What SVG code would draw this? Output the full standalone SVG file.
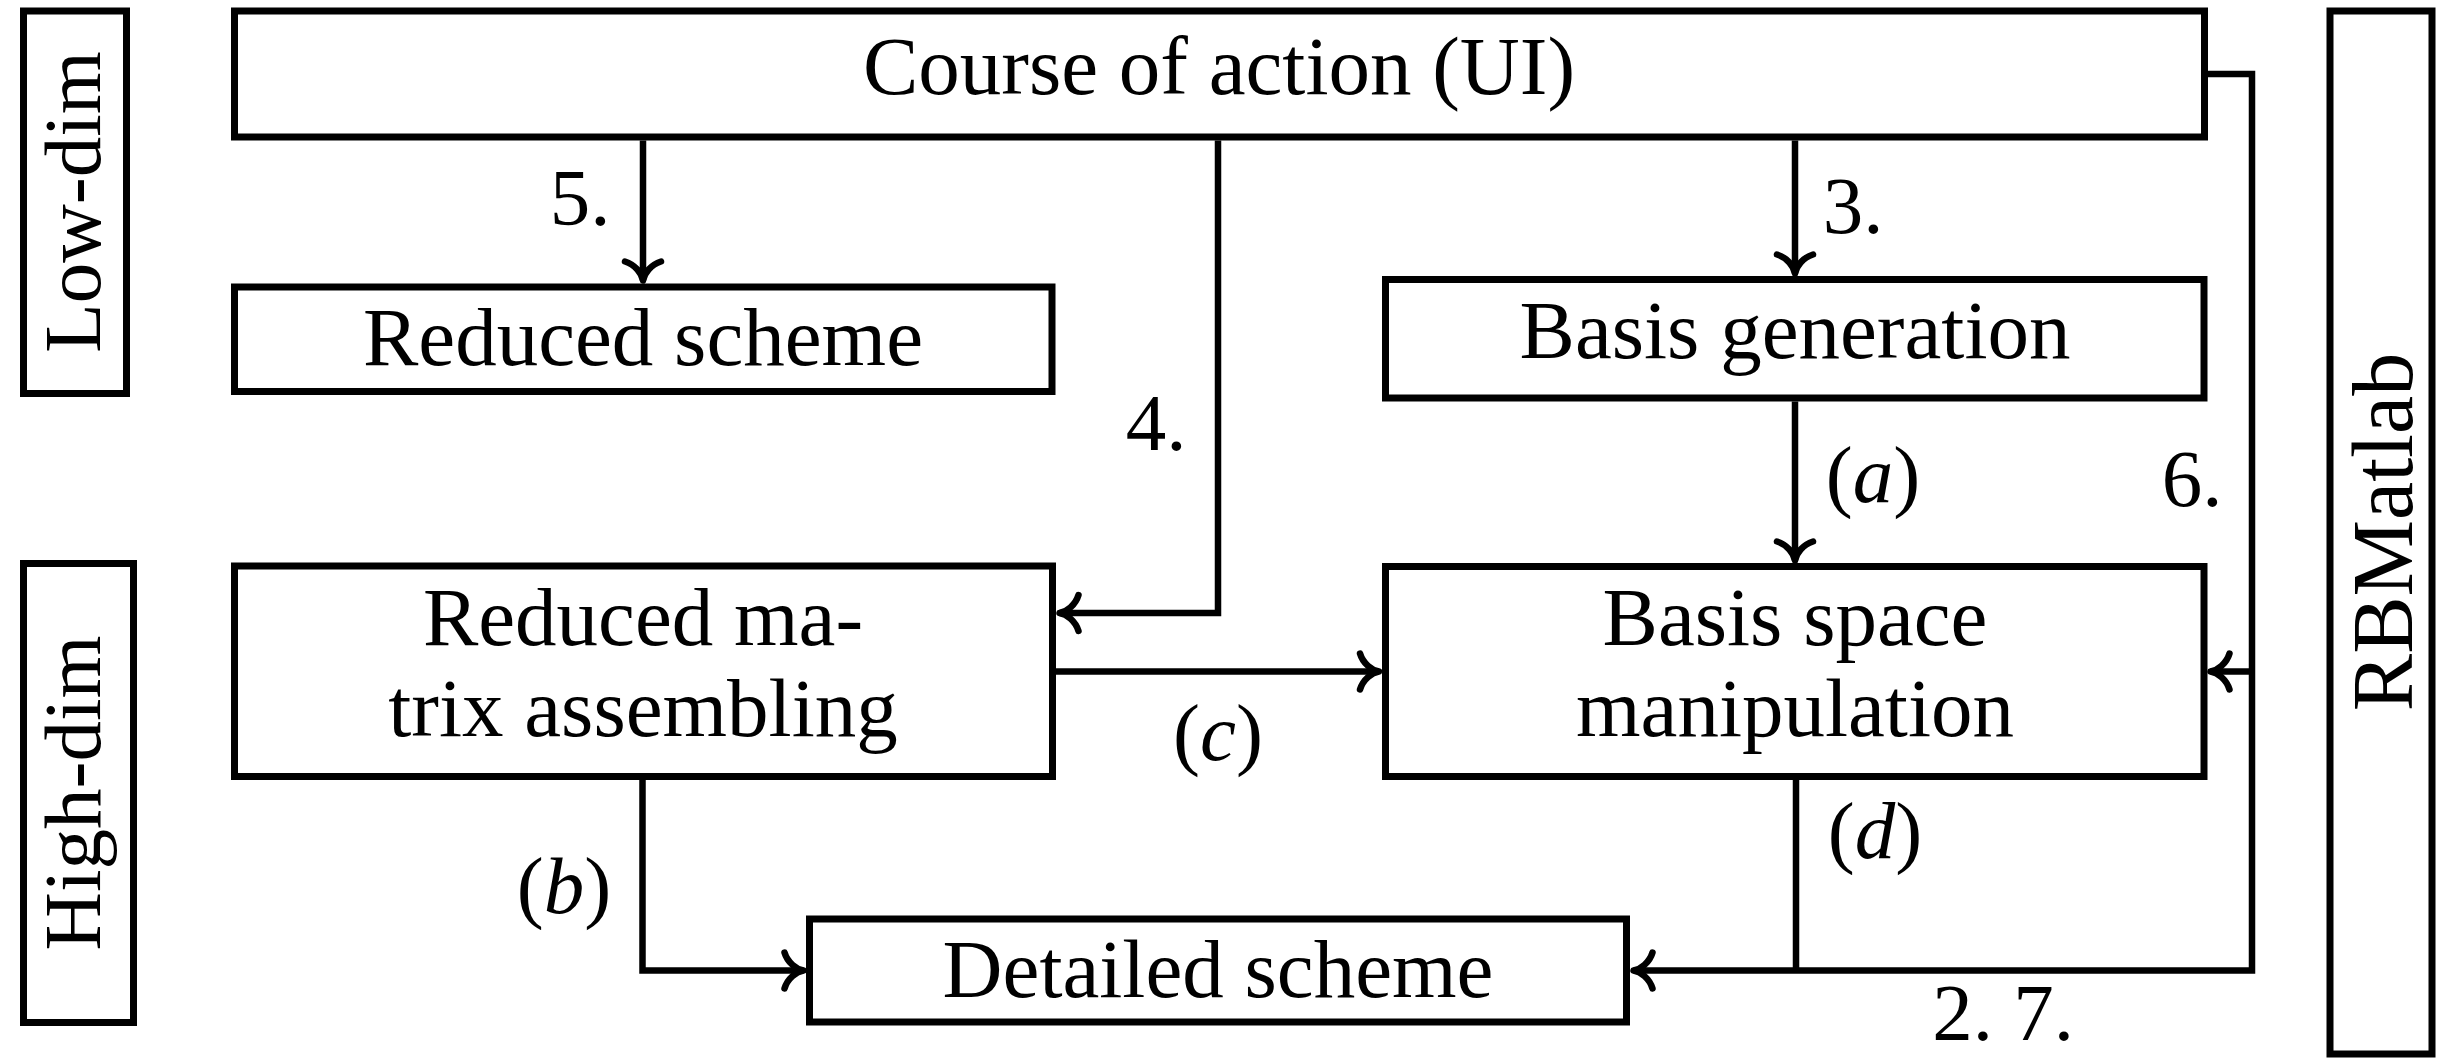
<svg xmlns="http://www.w3.org/2000/svg" width="2446" height="1058" viewBox="0 0 2446 1058">
<style>
.box{fill:#fff;stroke:#000;stroke-width:7}
.t{font-family:"Liberation Serif","Times New Roman",serif;font-size:83px;fill:#000;text-anchor:middle}
.side{font-family:"Liberation Serif","Times New Roman",serif;font-size:81px;fill:#000;text-anchor:middle}
.lbl{font-family:"Liberation Serif","Times New Roman",serif;font-size:81px;fill:#000;text-anchor:middle}
.it{font-style:italic}
.con{fill:none;stroke:#000;stroke-width:6.5;stroke-linejoin:miter;stroke-linecap:butt}
</style>
<defs>
<marker id="ah" markerUnits="userSpaceOnUse" orient="auto" viewBox="-30 -30 40 60" markerWidth="40" markerHeight="60" refX="0" refY="0" overflow="visible">
<path d="M-19,-18 C-16,-8 -7,-1 0,0 C-7,1 -16,8 -19,18" fill="none" stroke="#000" stroke-width="6.5" stroke-linecap="round" stroke-linejoin="round"/>
</marker>
</defs>
<rect width="2446" height="1058" fill="#fff"/>

<g id="connectors">
<path class="con" d="M643,140.5 V280.5" marker-end="url(#ah)"/>
<path class="con" d="M1795,140.5 V273.5" marker-end="url(#ah)"/>
<path class="con" d="M1795,401.5 V560.5" marker-end="url(#ah)"/>
<path class="con" d="M1218,140.5 V613 H1059.5" marker-end="url(#ah)"/>
<path class="con" d="M1056,671.5 H1379" marker-end="url(#ah)"/>
<path class="con" d="M642.5,780 V970.5 H803.5" marker-end="url(#ah)"/>
<path class="con" d="M1796,780 V970.5"/>
<path class="con" d="M2207.5,74 H2252 V970.5 H1633.5" marker-end="url(#ah)"/>
<path class="con" d="M2252,671.5 H2210.5" marker-end="url(#ah)"/>
</g>

<g id="labels">
<text class="lbl" x="580" y="225">5.</text>
<text class="lbl" x="1853" y="233">3.</text>
<text class="lbl" x="1156" y="450">4.</text>
<text class="lbl" x="1873" y="502">(<tspan class="it">a</tspan>)</text>
<text class="lbl" x="2192" y="506">6.</text>
<text class="lbl" x="1218" y="760">(<tspan class="it">c</tspan>)</text>
<text class="lbl" x="564" y="913">(<tspan class="it">b</tspan>)</text>
<text class="lbl" x="1875" y="858">(<tspan class="it">d</tspan>)</text>
<text class="lbl" x="2003" y="1040">2. 7.</text>
</g>

<g id="low-dim">
<rect class="box" x="23.5" y="11" width="103" height="382.5"/>
<text class="side" transform="translate(100,202) rotate(-90)">Low-dim</text>
</g>
<g id="high-dim">
<rect class="box" x="23.5" y="563.5" width="110" height="459"/>
<text class="side" transform="translate(100,793) rotate(-90)">High-dim</text>
</g>
<g id="rbmatlab">
<rect class="box" x="2330" y="11" width="102" height="1043"/>
<text class="side" style="font-size:86px" transform="translate(2412,532) rotate(-90)">RBMatlab</text>
</g>

<g id="course">
<rect class="box" x="234.5" y="11" width="1970" height="126"/>
<text class="t" x="1219" y="94">Course of action (UI)</text>
</g>
<g id="reduced-scheme">
<rect class="box" x="234.5" y="287" width="817.5" height="104.5"/>
<text class="t" x="643" y="365">Reduced scheme</text>
</g>
<g id="basis-generation">
<rect class="box" x="1385.5" y="279.5" width="818.5" height="118.5"/>
<text class="t" x="1795" y="358">Basis generation</text>
</g>
<g id="reduced-matrix">
<rect class="box" x="234.5" y="566" width="818" height="210.5"/>
<text class="t" x="643" y="645">Reduced ma-</text>
<text class="t" x="643" y="736">trix assembling</text>
</g>
<g id="basis-space">
<rect class="box" x="1385.5" y="566.5" width="818.5" height="210"/>
<text class="t" x="1795" y="645">Basis space</text>
<text class="t" x="1795" y="736">manipulation</text>
</g>
<g id="detailed-scheme">
<rect class="box" x="809.5" y="919" width="817" height="103"/>
<text class="t" x="1218" y="997">Detailed scheme</text>
</g>
</svg>
